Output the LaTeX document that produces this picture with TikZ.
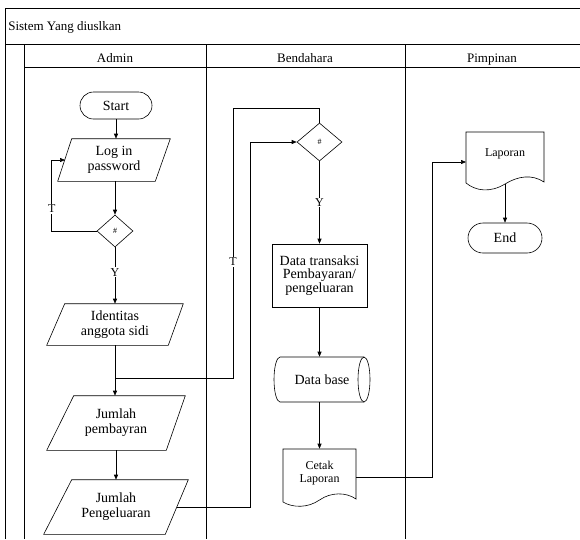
\documentclass[tikz,border=0pt]{standalone}
\usepackage{fontspec}
\setmainfont{Liberation Serif}
\usetikzlibrary{arrows.meta,shapes.geometric}
\begin{document}
\begin{tikzpicture}[x=1pt,y=-1pt,line width=0.6pt,
  frame/.style={line width=0.9pt},
  txt/.style={font=\fontsize{14}{15}\selectfont,align=center,inner sep=0pt},
  small/.style={font=\fontsize{12}{13.6}\selectfont,align=center,inner sep=0pt},
  hdr/.style={font=\fontsize{13}{13}\selectfont,inner sep=0pt},
  term/.style={draw,txt,minimum width=72,minimum height=27,rounded corners=13.5pt},
  dia/.style={diamond,draw,inner sep=0pt,font=\fontsize{8}{8}\selectfont},
  flow/.style={-{Triangle[length=5pt,width=4pt]}},
  lbl/.style={fill=white,inner sep=1pt,font=\fontsize{12}{12}\selectfont}]
\useasboundingbox (0,0) rectangle (580,539);
% frame
\draw[frame] (5,539) -- (5,8) -- (580,8);
\draw[frame] (5,44) -- (580,44);
\draw[frame] (24,67) -- (580,67);
\draw[frame] (24,44) -- (24,539);
\draw[frame] (206,44) -- (206,539);
\draw[frame] (405,44) -- (405,539);
\node[hdr,anchor=base west] (title) at (8,30) {Sistem Yang diuslkan};
\node[hdr,anchor=base] (hA) at (115,62) {Admin};
\node[hdr,anchor=base] (hB) at (305,62) {Bendahara};
\node[hdr,anchor=base] (hC) at (492,62) {Pimpinan};
% Admin lane
\node[term] (start) at (116,105.5) {Start};
\node[txt,minimum width=112,minimum height=42] (login) at (114,160) {Log in\\password};
\draw ([xshift=14pt]login.north west) -- (login.north east) -- ([xshift=-15pt]login.south east) -- (login.south west) -- cycle;
\node[dia,minimum width=36,minimum height=32] (d1) at (115,231) {\#};
\node[txt,minimum width=136,minimum height=41] (ident) at (115,324.5) {Identitas\\anggota sidi};
\draw ([xshift=18pt]ident.north west) -- (ident.north east) -- ([xshift=-15pt]ident.south east) -- (ident.south west) -- cycle;
\node[txt,minimum width=138,minimum height=54] (pemb) at (116,423) {Jumlah\\pembayran};
\draw ([xshift=27pt]pemb.north west) -- (pemb.north east) -- ([xshift=-19pt]pemb.south east) -- (pemb.south west) -- cycle;
\node[txt,minimum width=144,minimum height=54] (peng) at (116,507) {Jumlah\\Pengeluaran};
\draw ([xshift=28pt]peng.north west) -- (peng.north east) -- ([xshift=-23pt]peng.south east) -- (peng.south west) -- cycle;
\coordinate (loopin) at (65,160);
\coordinate (j1) at (115,378);
\coordinate (pengR) at (176.5,507);
% Bendahara lane
\node[dia,minimum width=45,minimum height=38] (d2) at (319.5,142) {\#};
\node[draw,txt,font=\fontsize{14}{13.5}\selectfont,minimum width=95,minimum height=63] (dt) at (319.5,275.5) {Data transaksi\\Pembayaran/\\pengeluaran};
\node[txt,minimum width=96,minimum height=45] (db) at (322,379.5) {Data base};
\draw (364,357) -- (280,357) arc[start angle=90,end angle=270,x radius=6pt,y radius=22.5pt] -- (364,402);
\draw (364,379.5) ellipse [x radius=6pt,y radius=22.5pt];
\node[small,minimum width=73,minimum height=48] (cetak) at (319.5,473) {Cetak\\Laporan};
\draw (283,502) -- (283,449) -- (356,449) -- (356,499) .. controls (346,492) and (331,492) .. (319.5,500) .. controls (308,508) and (293,508) .. (283,502);
\coordinate (cetakR) at (356,477);
% Pimpinan lane
\node[small,minimum width=78,minimum height=44] (lap) at (505,154) {Laporan};
\draw (466,183) -- (466,132) -- (544,132) -- (544,182) .. controls (532,174) and (518,176) .. (505,184) .. controls (490,193) and (476,191) .. (466,183);
\coordinate (lapin) at (466,162);
\coordinate (lapb) at (505,184);
\node[term,minimum width=74,minimum height=30,rounded corners=15pt] (endn) at (505,238) {End};
% connectors
\draw[flow] (start.south) -- (start.south |- login.north);
\draw[flow] (d1.north |- login.south) -- (d1.north);
\draw[flow] (d1.west) -- ++(-45,0) coordinate (lc) -- node[lbl,pos=0.31]{T} (lc |- loopin) -- (loopin);
\draw[flow] (d1.south) -- node[lbl,pos=0.44]{Y} (d1.south |- ident.north);
\draw[flow] (ident.south) -- (ident.south |- pemb.north);
\draw[flow] (pemb.south) -- (pemb.south |- peng.north);
\draw (j1) -- (233,378) -- node[lbl,pos=0.43]{T} (233,108) -- (d2.north |- 0,108) -- (d2.north);
\draw[flow] (pengR) -- (250,507) -- (250,142) -- (d2.west);
\draw[flow] (d2.south) -- node[lbl,pos=0.5]{Y} (d2.south |- dt.north);
\draw[flow] (dt.south) -- (dt.south |- db.north);
\draw[flow] (dt.south |- db.south) -- (cetak.north);
\draw[flow] (cetakR) -- (432,477) -- (432,162) -- (lapin);
\draw[flow] (lapb) -- (endn.north);
\end{tikzpicture}
\end{document}
